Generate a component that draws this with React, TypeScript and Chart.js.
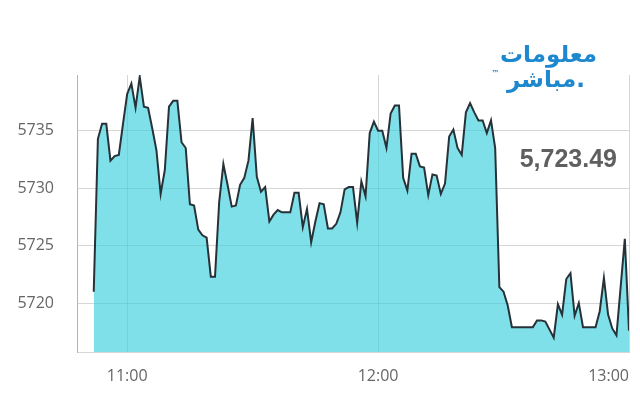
import React, { useEffect, useRef } from "react";
import { Chart, registerables } from "chart.js";

Chart.register(...registerables);

// ---- data ----
const startTime = "10:52"; // first sample, one sample per minute
const values = [
  5721.0, 5734.3, 5735.6, 5735.6, 5732.4, 5732.8, 5732.9, 5735.6,
  5738.2, 5739.1, 5737.0, 5739.7, 5737.1, 5737.0, 5735.2, 5733.3, 5729.5, 5731.6,
  5737.1, 5737.6, 5737.6, 5734.0, 5733.5, 5728.6, 5728.5, 5726.4, 5725.9, 5725.7,
  5722.3, 5722.3, 5728.8, 5732.1, 5730.3, 5728.4, 5728.5, 5730.3, 5730.9, 5732.4,
  5736.1, 5731.0, 5729.7, 5730.1, 5727.1, 5727.7, 5728.1, 5727.9, 5727.9, 5727.9,
  5729.6, 5729.6, 5726.6, 5728.2, 5725.3, 5727.1, 5728.7, 5728.6, 5726.5, 5726.5,
  5726.9, 5727.9, 5729.9, 5730.1, 5730.1, 5727.0, 5730.6, 5729.3, 5734.8, 5735.8,
  5735.0, 5735.0, 5733.5, 5736.5, 5737.2, 5737.2, 5730.9, 5729.8, 5733.0, 5733.0,
  5731.9, 5731.8, 5729.4, 5731.2, 5731.1, 5729.5, 5730.4, 5734.5, 5735.1, 5733.5,
  5732.9, 5736.6, 5737.4, 5736.6, 5735.9, 5735.9, 5734.8, 5735.9, 5733.5, 5721.4,
  5721.0, 5719.8, 5717.9, 5717.9, 5717.9, 5717.9, 5717.9, 5717.9, 5718.5, 5718.5,
  5718.4, 5717.7, 5717.0, 5719.9, 5719.0, 5722.1, 5722.6, 5718.9, 5720.0, 5717.9,
  5717.9, 5717.9, 5717.9, 5719.3, 5722.2, 5719.0, 5717.8, 5717.2, 5721.4, 5725.6, 5717.6,
];
const axisStart = "10:48";
const axisEnd = "13:00";
const xTickLabels = ["11:00", "12:00", "13:00"];
const yTickValues = [5720, 5725, 5730, 5735];
const yMin = 5715.75;
const yMax = 5739.85;
const lastValueText = "5,723.49";
const logoLine1 = "معلومات";
const logoLine2 = ".مباشر";

function toMinutes(t: string): number {
  const [h, m] = t.split(":").map(Number);
  return h * 60 + m;
}
function fmtMinutes(v: number): string {
  const h = Math.floor(v / 60);
  const m = Math.round(v - h * 60);
  return `${h}:${m < 10 ? "0" + m : m}`;
}

export default function App() {
  const canvasRef = useRef<HTMLCanvasElement | null>(null);

  useEffect(() => {
    if (!canvasRef.current) return;
    const start = toMinutes(startTime);
    const points = values.map((v, i) => ({ x: start + i, y: v }));
    const gridColor = "rgba(0,0,0,0.16)";
    const xMin = toMinutes(axisStart);
    const xMax = toMinutes(axisEnd);

    const chart = new Chart(canvasRef.current, {
      type: "line",
      data: {
        datasets: [
          {
            data: points,
            borderColor: "#263238",
            borderWidth: 2,
            backgroundColor: "rgba(60,208,222,0.66)",
            fill: "start",
            pointRadius: 0,
            tension: 0,
          },
        ],
      },
      options: {
        animation: false,
        responsive: true,
        maintainAspectRatio: false,
        layout: { padding: { left: 8, right: 3, top: 67, bottom: 0 } },
        plugins: { legend: { display: false }, tooltip: { enabled: false } },
        scales: {
          x: {
            type: "linear",
            min: xMin,
            max: xMax,
            afterBuildTicks: (scale: any) => {
              scale.ticks = [xMin, ...xTickLabels.map(toMinutes)].map((v) => ({ value: v }));
            },
            afterFit: (scale: any) => {
              scale.height = 40;
              scale.paddingLeft = 0;
              scale.paddingRight = 0;
            },
            grid: { color: gridColor, drawTicks: false },
            border: { display: true, color: gridColor },
            ticks: {
              autoSkip: false,
              maxRotation: 0,
              align: "inner",
              padding: 15,
              color: "#666",
              font: { family: "'Open Sans', sans-serif", size: 16 },
              callback: (value: any) => {
                const s = fmtMinutes(Number(value));
                return xTickLabels.includes(s) ? s : "";
              },
            },
          },
          y: {
            type: "linear",
            min: yMin,
            max: yMax,
            afterBuildTicks: (scale: any) => {
              scale.ticks = yTickValues.map((v) => ({ value: v }));
            },
            afterFit: (scale: any) => {
              scale.width = 61;
              scale.paddingTop = 0;
              scale.paddingBottom = 0;
            },
            grid: { color: gridColor, drawTicks: false },
            border: { display: true, color: gridColor },
            ticks: {
              padding: 23,
              color: "#666",
              font: { family: "'Open Sans', sans-serif", size: 16 },
              callback: (value: any) => String(value),
            },
          },
        },
      },
    } as any);
    return () => chart.destroy();
  }, []);

  return (
    <div style={{ position: "relative", width: 624, height: 384 }}>
      <canvas ref={canvasRef} />
      <div
        style={{
          position: "absolute",
          right: 35,
          top: 34,
          direction: "rtl",
          fontFamily: "'DejaVu Sans', sans-serif",
          fontWeight: "bold",
          fontSize: 23,
          lineHeight: "25px",
          color: "#1e88cf",
          textAlign: "right",
        }}
      >
        <div>{logoLine1}</div>
        <div style={{ position: "relative", marginRight: 12 }}>
          {logoLine2}
          <span
            style={{
              fontSize: 8,
              lineHeight: "8px",
              position: "absolute",
              left: -9,
              top: 3,
              direction: "ltr",
            }}
          >
            ™
          </span>
        </div>
      </div>
      <div
        style={{
          position: "absolute",
          right: 15,
          top: 138,
          fontFamily: "'Liberation Sans', Arial, sans-serif",
          fontWeight: "bold",
          fontSize: 25,
          lineHeight: "25px",
          color: "#5f5f5f",
        }}
      >
        {lastValueText}
      </div>
    </div>
  );
}
